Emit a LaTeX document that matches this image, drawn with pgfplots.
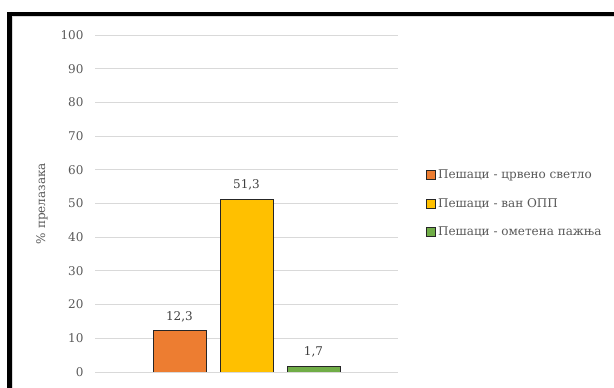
\documentclass[border=0pt]{standalone}
\usepackage{fontspec}
\setmainfont{DejaVu Serif}
\usepackage{pgfplots}
\pgfplotsset{compat=1.18}
\definecolor{cOr}{HTML}{ED7D31}
\definecolor{cYe}{HTML}{FFC000}
\definecolor{cGr}{HTML}{70AD47}
\definecolor{cGrid}{HTML}{D9D9D9}
\definecolor{cTxt}{HTML}{595959}
\definecolor{cLab}{HTML}{404040}
\begin{document}
\begin{tikzpicture}[x=1pt,y=1pt]
\useasboundingbox (0,0) rectangle (614,388);
\fill[white] (0,0) rectangle (614,388);
\begin{axis}[
  at={(95pt,16pt)}, anchor=south west,
  scale only axis, width=303pt, height=337pt,
  xmin=-2.26, xmax=2.26, ymin=0, ymax=100,
  ytick={0,10,...,100},
  xtick=\empty,
  axis line style={draw=none},
  ymajorgrids, grid style={cGrid, line width=0.8pt},
  major tick length=0pt,
  tick label style={font=\fontsize{12}{14}\selectfont, text=cTxt},
  yticklabel style={xshift=-8pt, /pgf/number format/.cd, fixed, precision=0, fixed zerofill=false, assume math mode=true},
  ylabel={\% прелазака},
  ylabel style={at={(axis description cs:-0.175,0.5)}, anchor=center, font=\fontsize{12}{14}\selectfont, text=cTxt},
  ybar,
  bar width=53pt, bar shift=0pt,
  nodes near coords,
  every node near coord/.append style={font=\fontsize{12}{14}\selectfont, text=cLab, yshift=5pt,
    /pgf/number format/.cd, use comma, fixed, fixed zerofill, precision=1, assume math mode=true},
  legend style={at={(axis description cs:1.083,0.5)}, anchor=west, draw=none, fill=none,
    font=\fontsize{12}{14}\selectfont, text=cTxt, row sep=14pt,
    /tikz/every even column/.append style={column sep=0pt}},
  legend cell align=left,
  legend image code/.code={\draw[#1, line width=0.8pt] (0pt,-4.5pt) rectangle (9pt,4.5pt);},
]
\addplot[fill=cOr, draw=black!85, line width=0.8pt] coordinates {(-1,12.3)};
\addplot[fill=cYe, draw=black!85, line width=0.8pt] coordinates {(0,51.3)};
\addplot[fill=cGr, draw=black!85, line width=0.8pt] coordinates {(1,1.7)};
\legend{Пешаци - црвено светло, Пешаци - ван ОПП, Пешаци - ометена пажња}
\end{axis}
\draw[cGrid, line width=0.8pt] (12.5,0) -- (12.5,371.5) -- (614,371.5);
\draw[black, line width=4.5pt] (7,374) -- (614,374);
\draw[black, line width=4.5pt] (9.5,376) -- (9.5,0);
\end{tikzpicture}
\end{document}
